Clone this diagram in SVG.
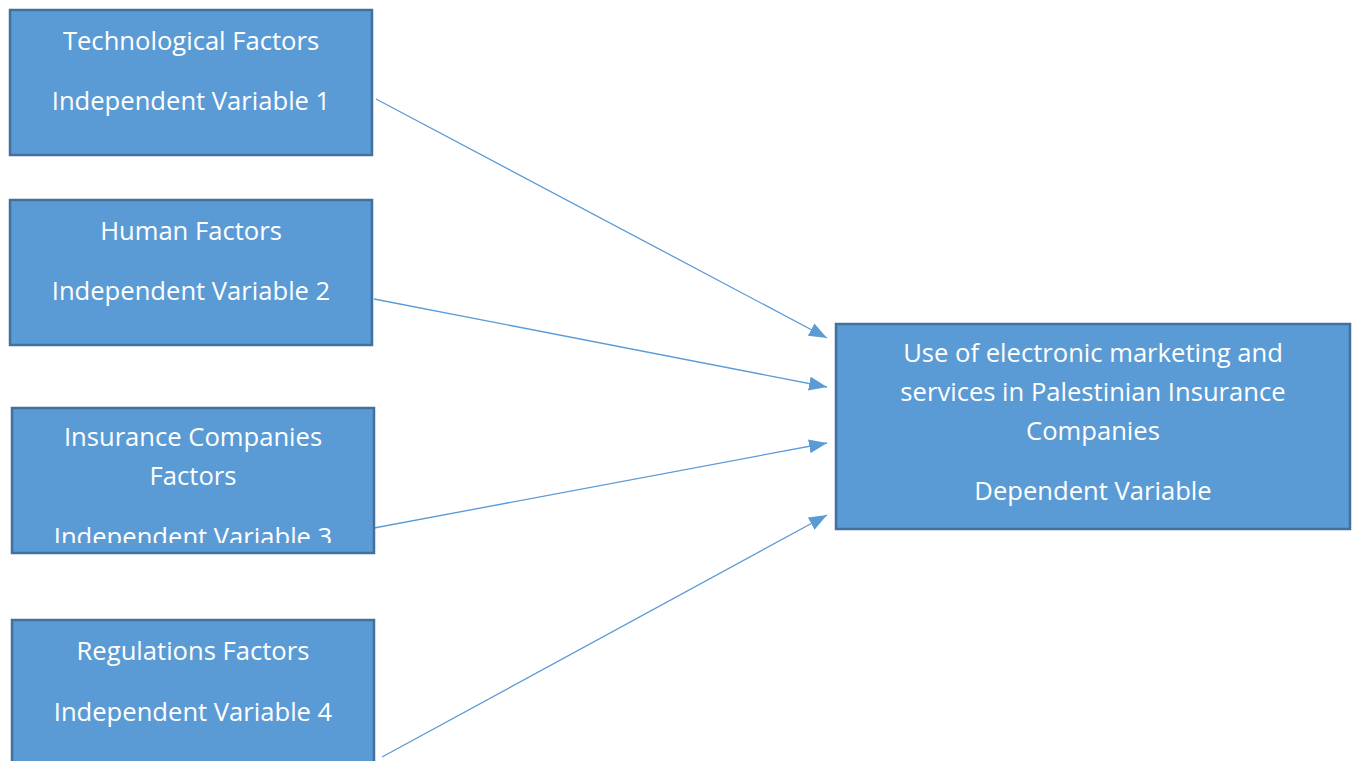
<svg xmlns="http://www.w3.org/2000/svg" width="1354" height="761" viewBox="0 0 1354 761">
<defs>
<style>
.box{fill:#5B9BD5;stroke:#41719C;stroke-width:2.5}
.t{font-family:"Open Sans","Liberation Sans",sans-serif;font-size:25.6px;fill:#fff;text-anchor:middle;font-variant-ligatures:none}
.c{stroke:#5B9BD5;stroke-width:1.3;fill:none;marker-end:url(#ah)}
</style>
<marker id="ah" viewBox="0 0 18 14" refX="18" refY="7" markerWidth="18" markerHeight="14" orient="auto" markerUnits="userSpaceOnUse">
<path d="M0,0 L18,7 L0,14 z" fill="#5B9BD5"/>
</marker>
<clipPath id="clip3"><rect x="12" y="408" width="361" height="135"/></clipPath>
</defs>
<g id="connectors">
<line class="c" x1="376" y1="99" x2="827" y2="338"/>
<line class="c" x1="374" y1="299" x2="827" y2="387"/>
<line class="c" x1="374" y1="528" x2="827" y2="443"/>
<line class="c" x1="382" y1="757" x2="827" y2="515"/>
</g>
<g id="node1">
<rect class="box" x="10" y="10" width="362" height="145"/>
<text class="t" x="191" y="50">Technological Factors</text>
<text class="t" x="191" y="110">Independent Variable 1</text>
</g>
<g id="node2">
<rect class="box" x="10" y="200" width="362" height="145"/>
<text class="t" x="191" y="240">Human Factors</text>
<text class="t" x="191" y="300">Independent Variable 2</text>
</g>
<g id="node3">
<rect class="box" x="12" y="408" width="362" height="145"/>
<text class="t" x="193" y="446">Insurance Companies</text>
<text class="t" x="193" y="485">Factors</text>
<text class="t" x="193" y="546" clip-path="url(#clip3)">Independent Variable 3</text>
</g>
<g id="node4">
<rect class="box" x="12" y="620" width="362" height="150"/>
<text class="t" x="193" y="660">Regulations Factors</text>
<text class="t" x="193" y="721">Independent Variable 4</text>
</g>
<g id="node5">
<rect class="box" x="836" y="324" width="514" height="205"/>
<text class="t" x="1093" y="362">Use of electronic marketing and</text>
<text class="t" x="1093" y="401">services in Palestinian Insurance</text>
<text class="t" x="1093" y="440">Companies</text>
<text class="t" x="1093" y="500">Dependent Variable</text>
</g>
</svg>
